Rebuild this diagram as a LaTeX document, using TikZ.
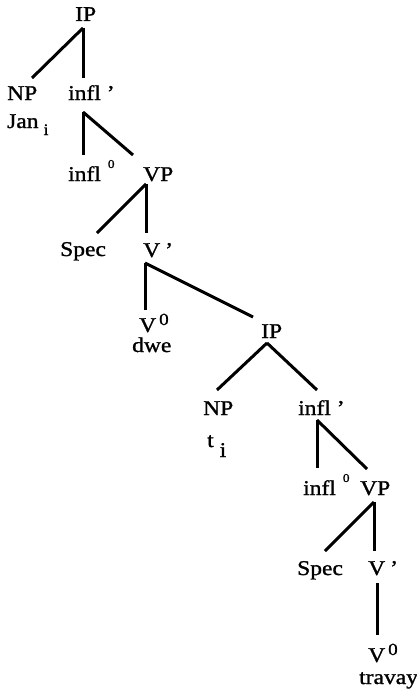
\documentclass[tikz,border=0pt]{standalone}
\usepackage{fontspec}
\setmainfont{Liberation Serif}[FakeStretch=1.12,FakeBold=1.2]
\newcommand\mysupz[2]{\raisebox{#1}{\fontsize{#2}{#2}\selectfont 0}}
\begin{document}
\begin{tikzpicture}[x=1pt,y=1pt,
  lab/.style={inner sep=0pt, anchor=base west, font=\fontsize{21}{24}\selectfont},
  br/.style={line width=3pt}]
\useasboundingbox (0,0) rectangle (417,-693);
% nodes
\node[lab] (ip)  at (75,-21)  {IP};
\node[lab] (np1) at (7,-100)  {NP};
\node[lab] (ib1) at (68,-100) {infl\hspace{6pt}’};
\node[lab] (jan) at (7,-128)  {Jan\hspace{5pt}\raisebox{-7pt}{\fontsize{16}{16}\selectfont i}};
\node[lab] (i01) at (68,-181) {infl\hspace{7pt}\mysupz{13pt}{12}};
\node[lab] (vp1) at (143,-181) {VP};
\node[lab] (spec1) at (60,-256) {Spec};
\node[lab] (vb1) at (143,-257) {V\hspace{5pt}’};
\node[lab] (v01) at (139,-332) {V\hspace{3pt}\mysupz{7pt}{17}};
\node[lab] (dwe) at (132,-352) {dwe};
\node[lab] (ip2) at (261,-338) {IP};
\node[lab] (np2) at (203,-415) {NP};
\node[lab] (ib2) at (298,-415) {infl\hspace{6pt}’};
\node[lab] (ti)  at (207,-447) {t\hspace{6pt}\raisebox{-10pt}{i}};
\node[lab] (i02) at (303,-495) {infl\hspace{7pt}\mysupz{13pt}{12}};
\node[lab] (vp2) at (360,-495) {VP};
\node[lab] (spec2) at (297,-575) {Spec};
\node[lab] (vb2) at (368,-575) {V\hspace{5pt}’};
\node[lab] (v02) at (368,-662) {V\hspace{3pt}\mysupz{7pt}{17}};
\node[lab] (travay) at (359,-684) {travay};
% branches
\draw[br] ([shift={(8,-7)}]ip.base west) -- ([shift={(25,22)}]np1.base west);
\draw[br] ([shift={(8,-7)}]ip.base west) -- ([shift={(15,22)}]ib1.base west);
\draw[br] ([shift={(15,-12)}]ib1.base west) -- ([shift={(15,26)}]i01.base west);
\draw[br] ([shift={(15,-12)}]ib1.base west) -- ([shift={(-10,26)}]vp1.base west);
\draw[br] ([shift={(3,-3)}]vp1.base west) -- ([shift={(37,23)}]spec1.base west);
\draw[br] ([shift={(3,-3)}]vp1.base west) -- ([shift={(3,24)}]vb1.base west);
\draw[br] ([shift={(2,-6)}]vb1.base west) -- ([shift={(6,22)}]v01.base west);
\draw[br] ([shift={(2,-6)}]vb1.base west) -- ([shift={(-8,21)}]ip2.base west);
\draw[br] ([shift={(6,-5)}]ip2.base west) -- ([shift={(14,25)}]np2.base west);
\draw[br] ([shift={(6,-5)}]ip2.base west) -- ([shift={(19,25)}]ib2.base west);
\draw[br] ([shift={(19,-5)}]ib2.base west) -- ([shift={(14,27)}]i02.base west);
\draw[br] ([shift={(19,-5)}]ib2.base west) -- ([shift={(7,26)}]vp2.base west);
\draw[br] ([shift={(14,-7)}]vp2.base west) -- ([shift={(28,24)}]spec2.base west);
\draw[br] ([shift={(14,-7)}]vp2.base west) -- ([shift={(6,24)}]vb2.base west);
\draw[br] ([shift={(9,-8)}]vb2.base west) -- ([shift={(9,27)}]v02.base west);
\end{tikzpicture}
\end{document}
